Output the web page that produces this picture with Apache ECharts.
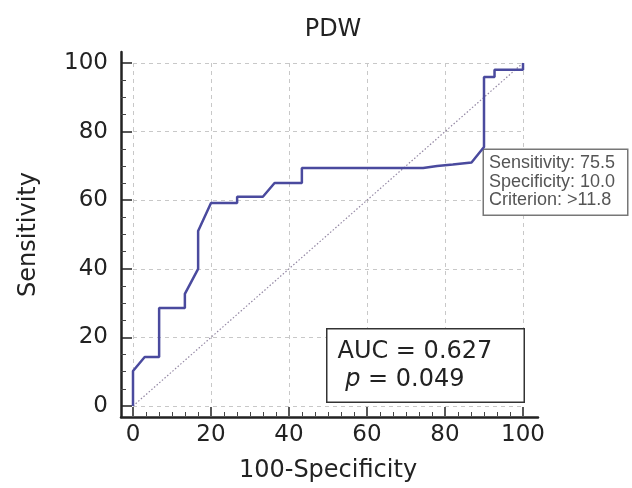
<!DOCTYPE html>
<html>
<head>
<meta charset="utf-8">
<script src="https://cdn.jsdelivr.net/npm/echarts@6/dist/echarts.min.js"></script>
<style>html,body{margin:0;padding:0;background:#fff}#c{width:632px;height:488px}</style>
</head>
<body>
<div id="c"></div>
<script>
// ROC curve points: [100-Specificity, Sensitivity]
var rocX = [0, 0, 3, 6.7, 6.7, 13.3, 13.3, 16.7, 16.7, 20, 26.7, 26.7, 33.3, 36.3, 43.3, 43.3, 74.4, 78, 82, 86.8, 90, 90, 92.7, 92.7, 100, 100];
var rocY = [0, 10.2, 14.3, 14.3, 28.6, 28.6, 32.7, 40, 51, 59.2, 59.2, 61, 61, 65, 65, 69.4, 69.4, 70, 70.4, 71, 75.5, 95.9, 95.9, 98, 98, 100];
var refX = [0, 100];
var refY = [0, 100];
var xTicks = [0, 20, 40, 60, 80, 100];
var yTicks = [0, 20, 40, 60, 80, 100];
var criterion = {x: 90, y: 75.5, sens: '75.5', spec: '10.0', crit: '>11.8'};
var auc = '0.627';
var pval = '0.049';

var font = '"DejaVu Sans", sans-serif';
var font2 = '"Liberation Sans", Arial, sans-serif';
var rocData = rocX.map(function (v, i) { return [v, rocY[i]]; });
var refData = refX.map(function (v, i) { return [v, refY[i]]; });

var chart = echarts.init(document.getElementById('c'));
chart.setOption({
  animation: false,
  backgroundColor: '#fff',
  textStyle: {fontFamily: font},
  title: {
    text: 'PDW', left: 328, top: 13, textAlign: 'center',
    textStyle: {fontFamily: font, fontSize: 24, fontWeight: 'normal', color: '#222'}
  },
  grid: [
    {left: 133, right: 109, top: 63, bottom: 81},
    {left: 121, right: 94, top: 52, bottom: 71}
  ],
  xAxis: [
    {
      gridIndex: 0, type: 'value', min: xTicks[0], max: xTicks[xTicks.length - 1], interval: 20,
      offset: 10,
      axisLine: {show: false, onZero: false},
      axisTick: {show: true, inside: true, length: 9, lineStyle: {color: '#222', width: 1.5}},
      minorTick: {show: true, splitNumber: 6, length: 4, lineStyle: {color: '#444', width: 1}},
      axisLabel: {margin: 8, fontSize: 23, color: '#222', fontFamily: font},
      splitLine: {show: true, lineStyle: {type: [4, 4], color: '#c8c8c8', width: 1}},
      name: '100-Specificity', nameLocation: 'middle', nameGap: 43,
      nameTextStyle: {fontSize: 24, color: '#222', fontFamily: font}
    },
    {
      gridIndex: 1, type: 'value', min: 0, max: 1,
      axisLine: {show: true, onZero: false, lineStyle: {color: '#222', width: 2.5}},
      axisTick: {show: false}, axisLabel: {show: false}, splitLine: {show: false}
    }
  ],
  yAxis: [
    {
      gridIndex: 0, type: 'value', min: yTicks[0], max: yTicks[yTicks.length - 1], interval: 20,
      offset: 12,
      axisLine: {show: false, onZero: false},
      axisTick: {show: true, inside: true, length: 11, lineStyle: {color: '#222', width: 1.5}},
      minorTick: {show: true, splitNumber: 4, length: 5, lineStyle: {color: '#444', width: 1}},
      axisLabel: {margin: 13, fontSize: 23, color: '#222', fontFamily: font},
      splitLine: {show: true, lineStyle: {type: [4, 4], color: '#c8c8c8', width: 1}},
      name: 'Sensitivity', nameLocation: 'middle', nameGap: 80,
      nameTextStyle: {fontSize: 24, color: '#222', fontFamily: font}
    },
    {
      gridIndex: 1, type: 'value', min: 0, max: 1,
      axisLine: {show: true, onZero: false, lineStyle: {color: '#222', width: 2.5}},
      axisTick: {show: false}, axisLabel: {show: false}, splitLine: {show: false}
    }
  ],
  series: [
    {
      type: 'line', xAxisIndex: 0, yAxisIndex: 0, data: refData,
      showSymbol: false, silent: true,
      lineStyle: {type: [1.5, 2], color: '#9488a4', width: 1.2}
    },
    {
      type: 'line', xAxisIndex: 0, yAxisIndex: 0, data: rocData,
      showSymbol: false, z: 5,
      lineStyle: {color: '#4a4a9e', width: 2.5},
      markPoint: {
        symbolSize: 0,
        data: [{coord: [criterion.x, criterion.y]}],
        label: {
          show: true, position: [0, 3],
          formatter: 'Sensitivity: ' + criterion.sens + '\nSpecificity: ' + criterion.spec + '\nCriterion: ' + criterion.crit,
          fontFamily: font2, fontSize: 18, lineHeight: 18.5, color: '#555',
          width: 135,
          backgroundColor: '#fff', borderColor: '#777', borderWidth: 1.5,
          padding: [4, 3, 5, 5], align: 'left', verticalAlign: 'top'
        }
      }
    }
  ],
  graphic: [
    {
      type: 'text', left: 326, top: 328, z: 10,
      style: {
        text: 'AUC = ' + auc + '\n {i|p} = ' + pval,
        font: '24px ' + font,
        fill: '#222',
        lineHeight: 28,
        rich: {i: {fontStyle: 'italic', fontSize: 24, fontFamily: font, lineHeight: 28}},
        backgroundColor: '#fff',
        borderColor: '#333', borderWidth: 1.5,
        padding: [8, 10, 8, 10],
        width: 176
      }
    }
  ]
});
</script>
</body>
</html>
